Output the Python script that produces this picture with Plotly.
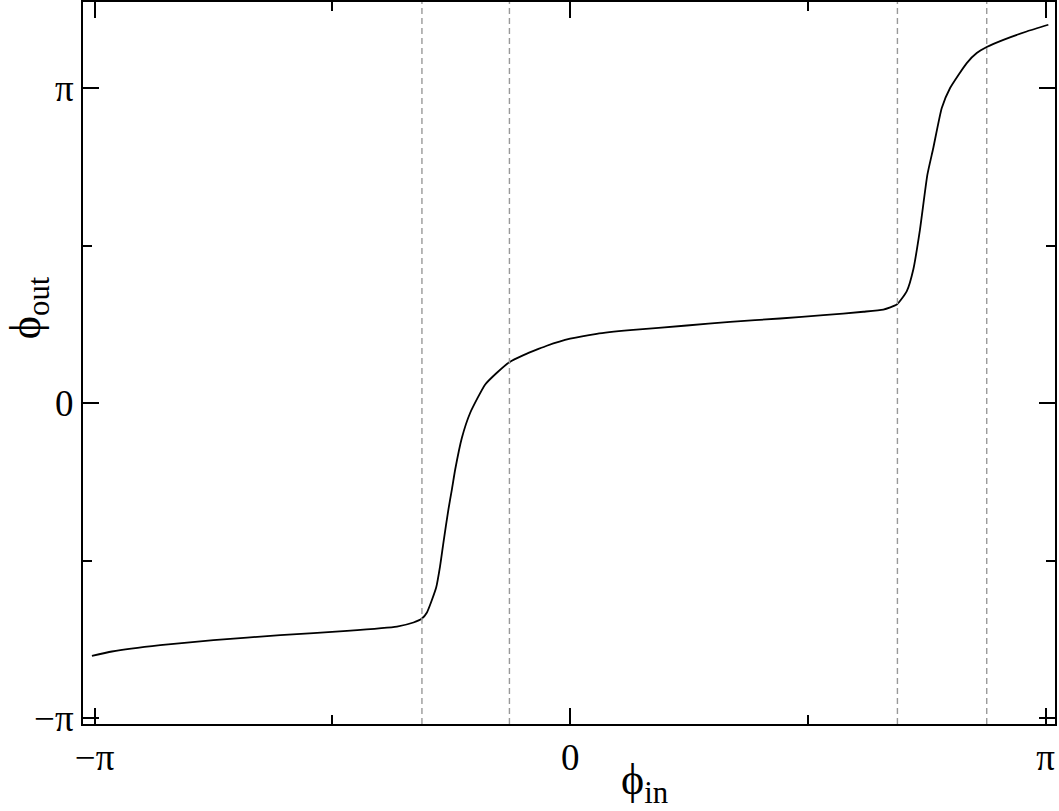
import numpy as np
import plotly.graph_objects as go

PI = np.pi

# curva de fase
phi_in = [-3.159, -3.027, -2.708, -2.356, -1.915, -1.474, -1.144, -1.035, -0.979,
          -0.946, -0.885, -0.859, -0.837, -0.804, -0.781, -0.759, -0.715, -0.660,
          -0.561, -0.484, -0.401, -0.308, -0.209, -0.154, 0.000, 0.176, 0.396,
          0.771, 1.057, 1.387, 1.673, 1.937, 2.069, 2.158, 2.224, 2.267, 2.311,
          2.360, 2.399, 2.455, 2.510, 2.620, 2.686, 2.752, 2.862, 3.016, 3.159]
phi_out = [-2.520, -2.477, -2.414, -2.364, -2.314, -2.271, -2.228, -2.188, -2.148,
           -2.088, -1.839, -1.624, -1.391, -1.059, -0.860, -0.660, -0.345, -0.096,
           0.186, 0.303, 0.408, 0.478, 0.540, 0.572, 0.642, 0.691, 0.727,
           0.774, 0.811, 0.844, 0.877, 0.911, 0.933, 0.983, 1.116, 1.332, 1.731,
           2.278, 2.544, 2.943, 3.142, 3.391, 3.491, 3.551, 3.623, 3.706, 3.773]

# linhas tracejadas verticais
vlines = [-0.979, -0.401, 2.162, 2.752]

tick_vals = [-PI, 0, PI]
tick_text = ["\u2212\u03c0", "0", "\u03c0"]
minor_vals = [-PI / 2, PI / 2]

FONT = "Liberation Serif"

fig = go.Figure()

for xv in vlines:
    fig.add_vline(x=xv, line=dict(color="#999999", width=1.4, dash="6px,4px"))

fig.add_trace(go.Scatter(
    x=phi_in,
    y=phi_out,
    mode='lines',
    line=dict(color='black', width=1.8, shape='spline', smoothing=0.5),
    showlegend=False
))

axis_style = dict(
    showgrid=False,
    zeroline=False,
    showline=True,
    linecolor='black',
    linewidth=2,
    mirror='allticks',
    ticks='inside',
    ticklen=16,
    tickwidth=1.5,
    tickcolor='black',
    tickvals=tick_vals,
    ticktext=tick_text,
    tickfont=dict(family=FONT, size=37, color='black'),
    automargin=False,
    minor=dict(tickvals=minor_vals, ticks='inside', ticklen=9,
               tickwidth=1.5, tickcolor='black'),
)

fig.update_xaxes(range=[-3.218, 3.203], **axis_style)
fig.update_yaxes(range=[-3.2, 4.0], **axis_style)

# rótulos dos eixos
fig.add_annotation(text="\u03d5<sub>in</sub>", xref='paper', yref='paper',
                   x=0.578, y=0, xanchor='center', yanchor='middle', yshift=-58,
                   showarrow=False, font=dict(family=FONT, size=44, color='black'))
fig.add_annotation(text="\u03d5<sub>out</sub>", xref='paper', yref='paper',
                   x=0, y=0.576, xanchor='center', yanchor='middle', xshift=-55,
                   textangle=-90, showarrow=False,
                   font=dict(family=FONT, size=44, color='black'))

fig.update_layout(
    width=1059,
    height=811,
    margin=dict(l=83, r=4, t=2, b=87),
    plot_bgcolor='white',
    paper_bgcolor='white',
)

# tira a margem padrão do body para a figura ocupar a janela toda
fig.write_html("out.html", config={'displayModeBar': False},
               post_script="document.body.style.margin='0';")
